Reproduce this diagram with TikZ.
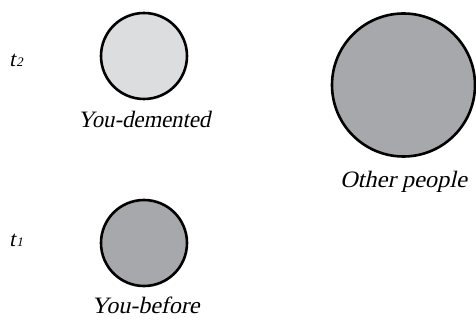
\documentclass[tikz,border=0pt]{standalone}
\usepackage{fontspec}
\setmainfont{Liberation Serif}
\newfontfamily\slserif{Liberation Serif}[FakeSlant=0.22]
\definecolor{lightfill}{HTML}{DCDDDF}
\definecolor{darkfill}{HTML}{A7A8AB}
\begin{document}
\begin{tikzpicture}[x=1pt,y=-1pt,
  blob/.style={circle,draw=black,line width=2.6pt,inner sep=0pt},
  lbl/.style={font=\fontsize{23.5}{28}\selectfont\slserif,inner sep=0pt,anchor=base},
  tlbl/.style={font=\fontsize{22}{24}\selectfont\slserif,inner sep=0pt,anchor=base west}]
\useasboundingbox (0,0) rectangle (476,320);
\node[blob,fill=lightfill,minimum size=86pt] (demented) at (144,56) {};
\node[blob,fill=darkfill,minimum size=86pt] (before) at (144,243) {};
\node[blob,fill=darkfill,minimum size=143pt] (others) at (403.5,85) {};
\node[lbl] (ldem) at (144,128) {\scalebox{0.965}[1]{You-demented}};
\node[lbl] (lbef) at (145.5,313) {\scalebox{1.02}[1]{You-before}};
\node[lbl] (loth) at (403.5,188) {\scalebox{1.04}[1]{Other people}};
\node[tlbl] (t2) at (9,67) {t\kern1pt{\fontsize{13}{14}\selectfont 2}};
\node[tlbl] (t1) at (9,247) {t\kern1pt{\fontsize{13}{14}\selectfont 1}};
\end{tikzpicture}
\end{document}
